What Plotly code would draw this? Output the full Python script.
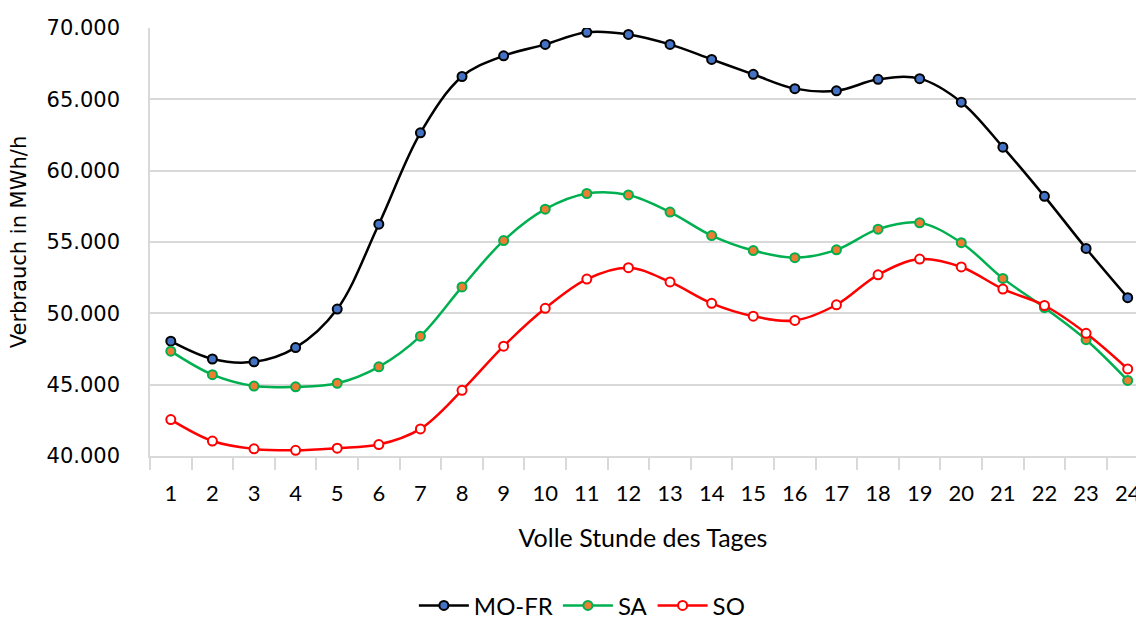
import plotly.graph_objects as go

# Hourly consumption profile (MWh/h) per day type
hours = list(range(1, 25))
mo_fr = [48050, 46800, 46600, 47600, 50300, 56250, 62650, 66600, 68050, 68850, 69700, 69550,
         68850, 67800, 66750, 65750, 65600, 66400, 66450, 64800, 61650, 58200, 54550, 51100]
sa = [47350, 45700, 44900, 44850, 45100, 46250, 48400, 51850, 55100, 57300, 58400, 58300,
      57100, 55450, 54400, 53900, 54450, 55900, 56350, 54950, 52450, 50400, 48150, 45300]
so = [42550, 41050, 40500, 40400, 40550, 40800, 41900, 44600, 47700, 50350, 52400, 53200,
      52200, 50700, 49800, 49500, 50600, 52700, 53800, 53250, 51700, 50550, 48600, 46100]
y_ticks = [40000, 45000, 50000, 55000, 60000, 65000, 70000]

series = [
    ("MO-FR", mo_fr, "#000000", "#4472C4", "#000000"),
    ("SA", sa, "#00B050", "#ED7D31", "#00B050"),
    ("SO", so, "#FF0000", "#FFFFFF", "#FF0000"),
]

fig = go.Figure()
for name, vals, line_col, fill_col, edge_col in series:
    fig.add_trace(go.Scatter(
        x=hours, y=vals, name=name, mode="lines+markers",
        line=dict(color=line_col, width=2.5, shape="spline", smoothing=1.0),
        marker=dict(symbol="circle", size=9, color=fill_col,
                    line=dict(color=edge_col, width=2)),
    ))

grid = "#D9D9D9"
fig.update_layout(
    width=1136, height=619,
    margin=dict(l=150, r=0, t=28, b=163, autoexpand=False),
    paper_bgcolor="white", plot_bgcolor="white",
    separators=",.",
    showlegend=True,
    legend=dict(orientation="h", x=0.438, xanchor="center", y=-0.35, yanchor="middle",
                font=dict(family="Lato, Open Sans, sans-serif", size=24, color="#000000"),
                itemwidth=50, bgcolor="rgba(0,0,0,0)"),
    xaxis=dict(
        range=[0.5, 24.2], tickmode="array", tickvals=hours,
        ticktext=[str(h) for h in hours], ticks="", ticklabelstandoff=17,
        ticklabeloverflow="allow", automargin=False,
        tickfont=dict(family="Lato, Open Sans, sans-serif", size=22, color="#000000"),
        showgrid=False, zeroline=False, showline=True, linecolor=grid, linewidth=1.5,
        minor=dict(tick0=0.5, dtick=1, ticks="outside", ticklen=12, tickcolor=grid,
                   tickwidth=1.5, showgrid=False),
        title=dict(text="Volle Stunde des Tages", standoff=24,
                   font=dict(family="Lato, Open Sans, sans-serif", size=25, color="#000000")),
    ),
    yaxis=dict(
        range=[40000, 70000], tickmode="array", tickvals=y_ticks, tickformat=",d",
        ticks="", ticklabelstandoff=24, automargin=False,
        tickfont=dict(family="DejaVu Sans, sans-serif", size=21, color="#000000"),
        showgrid=True, gridcolor=grid, gridwidth=1.5, zeroline=False,
        showline=True, linecolor=grid, linewidth=1.5,
        title=dict(text="Verbrauch in MWh/h", standoff=14,
                   font=dict(family="DejaVu Sans, sans-serif", size=21, color="#000000")),
    ),
)

fig.write_html("out.html")
